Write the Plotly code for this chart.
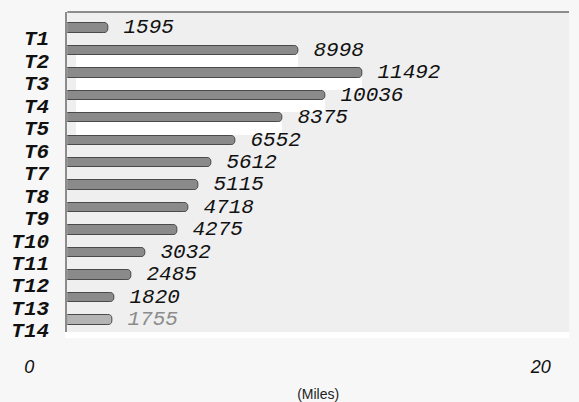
import plotly.graph_objects as go

# Mileage per route segment
categories = ["T1", "T2", "T3", "T4", "T5", "T6", "T7",
              "T8", "T9", "T10", "T11", "T12", "T13", "T14"]
miles = [1595, 8998, 11492, 10036, 8375, 6552, 5612,
         5115, 4718, 4275, 3032, 2485, 1820, 1755]
axis_ticks = [0, 20]          # thousands of miles
axis_title = "(Miles)"

# rows whose lower (lit) face is visible in the 3-D rendering
lit_rows = ["T2", "T3", "T4", "T5"]
DEPTH_SHIFT = 350              # horizontal shift of the lit face, in miles

W, H = 579, 402
L_PLOT = 64                    # left edge of plotting area (px)

bar_colors = ["#8a8a8a"] * (len(miles) - 1) + ["#b4b4b4"]
text_colors = ["#111111"] * (len(miles) - 1) + ["#8c8c8c"]

fig = go.Figure()

# lit faces (white) sitting just under the bars
fig.add_trace(go.Bar(
    y=categories,
    x=[(m - DEPTH_SHIFT) if c in lit_rows else None
       for c, m in zip(categories, miles)],
    base=DEPTH_SHIFT,
    orientation="h",
    width=0.58,
    offset=-0.27,
    marker=dict(color="#ffffff", line=dict(width=0)),
    hoverinfo="skip",
    showlegend=False,
))

fig.add_trace(go.Bar(
    y=categories,
    x=miles,
    orientation="h",
    width=0.42,
    offset=-0.66,
    marker=dict(color=bar_colors, line=dict(color="#4a4a4a", width=1),
                cornerradius=4),
    text=[f"{v}" for v in miles],
    texttemplate=" %{text}",
    textposition="outside",
    constraintext="none",
    cliponaxis=False,
    textfont=dict(family="Liberation Mono", size=21, style="italic",
                  color=text_colors),
    hoverinfo="skip",
    showlegend=False,
))

# Front-edge scale (thousands of miles), drawn on its own axis
fig.add_trace(go.Scatter(
    x=axis_ticks, y=[0, 0], xaxis="x2", yaxis="y2",
    mode="markers", marker=dict(opacity=0), hoverinfo="skip",
    showlegend=False,
))

fig.update_layout(
    width=W, height=H,
    margin=dict(l=0, r=0, t=12, b=70),
    paper_bgcolor="#f7f7f7",
    plot_bgcolor="rgba(0,0,0,0)",
    barmode="overlay",
    bargap=0,
    xaxis=dict(
        domain=[L_PLOT / W, 1],
        range=[0, 19550],
        showgrid=False, zeroline=False,
        showticklabels=False, ticks="",
        showline=True, linecolor="#ffffff", linewidth=6,
        title=dict(text=axis_title, standoff=56,
                   font=dict(family="Liberation Sans", size=14, color="#222222")),
    ),
    yaxis=dict(
        domain=[0, 1],
        type="category",
        categoryorder="array", categoryarray=categories,
        range=[13.09, -1.16],
        tickmode="array", tickvals=categories,
        showgrid=False, zeroline=False,
        showline=True, linecolor="#8c8c8c", linewidth=2,
        ticks="", ticklabelstandoff=12,
        tickfont=dict(family="Liberation Mono", size=21, weight="bold",
                      style="italic", color="#111111"),
    ),
    xaxis2=dict(
        domain=[25 / W, 550 / W],
        range=[0, 20],
        anchor="free", position=0,
        tickvals=axis_ticks,
        showgrid=False, zeroline=False, showline=False, ticks="",
        ticklabelstandoff=22,
        tickfont=dict(family="Liberation Sans", size=18, style="italic",
                      color="#111111"),
    ),
    yaxis2=dict(domain=[0, 1], anchor="x2", visible=False, range=[-1, 1]),
    shapes=[
        # plotting-area backdrop
        dict(type="rect", xref="x domain", yref="y domain",
             x0=0, x1=1, y0=0, y1=1, layer="below",
             fillcolor="#efefef", line=dict(width=0)),
        # top edge of the box
        dict(type="line", xref="x domain", yref="y domain",
             x0=0, x1=1, y0=1, y1=1, layer="above",
             line=dict(color="#8c8c8c", width=2)),
    ],
)

fig.write_html("out.html")
